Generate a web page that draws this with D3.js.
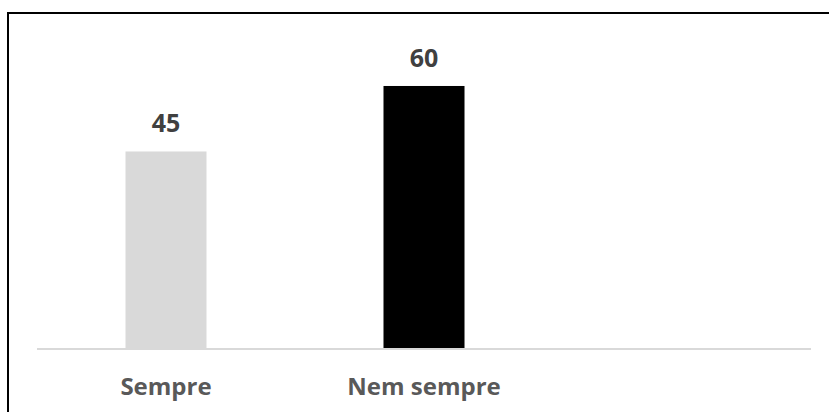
<!DOCTYPE html>
<html>
<head>
<meta charset="utf-8">
<script src="https://cdn.jsdelivr.net/npm/d3@7"></script>
<style>
  html, body { margin: 0; padding: 0; background: #fff; }
  svg { display: block; }
</style>
</head>
<body>
<svg id="chart" width="829" height="412"></svg>
<script>
// Categories and values (third slot is an empty category)
const categories = ["Sempre", "Nem sempre", ""];
const values = [45, 60, null];
const barColors = ["#d9d9d9", "#000000", "#ffffff"];

const svg = d3.select("#chart");
const W = 829, H = 412;

// Frame: top and left edges visible, right/bottom run off the canvas
svg.append("rect")
  .attr("x", 8).attr("y", 13)
  .attr("width", W + 10).attr("height", H + 10)
  .attr("fill", "#fff")
  .attr("stroke", "#000")
  .attr("stroke-width", 2);

const x = d3.scaleBand()
  .domain(categories.map((c, i) => i))
  .range([37, 811])
  .paddingInner(0.686)
  .paddingOuter(0.343);

const y = d3.scaleLinear()
  .domain([0, 70])
  .range([348, 348 - 70 * 4.367]);

const data = categories.map((c, i) => ({ i, c, v: values[i], color: barColors[i] }));

// Bars
svg.selectAll("rect.bar")
  .data(data.filter(d => d.v != null))
  .join("rect")
  .attr("class", "bar")
  .attr("x", d => x(d.i))
  .attr("width", x.bandwidth())
  .attr("y", d => y(d.v))
  .attr("height", d => y(0) - y(d.v))
  .attr("fill", d => d.color);

// Baseline
svg.append("line")
  .attr("x1", 37).attr("x2", 811)
  .attr("y1", y(0) + 1).attr("y2", y(0) + 1)
  .attr("stroke", "#d9d9d9")
  .attr("stroke-width", 2);

// Value labels
svg.selectAll("text.value")
  .data(data.filter(d => d.v != null))
  .join("text")
  .attr("class", "value")
  .attr("x", d => x(d.i) + x.bandwidth() / 2)
  .attr("y", d => y(d.v) - 19)
  .attr("text-anchor", "middle")
  .attr("font-family", "'Open Sans', sans-serif")
  .attr("font-weight", 700)
  .attr("font-size", 25)
  .attr("fill", "#404040")
  .text(d => d.v);

// Category labels
svg.selectAll("text.cat")
  .data(data)
  .join("text")
  .attr("class", "cat")
  .attr("x", d => x(d.i) + x.bandwidth() / 2)
  .attr("y", 395)
  .attr("text-anchor", "middle")
  .attr("font-family", "'Open Sans', sans-serif")
  .attr("font-weight", 700)
  .attr("font-size", 24)
  .attr("fill", "#595959")
  .text(d => d.c);
</script>
</body>
</html>
